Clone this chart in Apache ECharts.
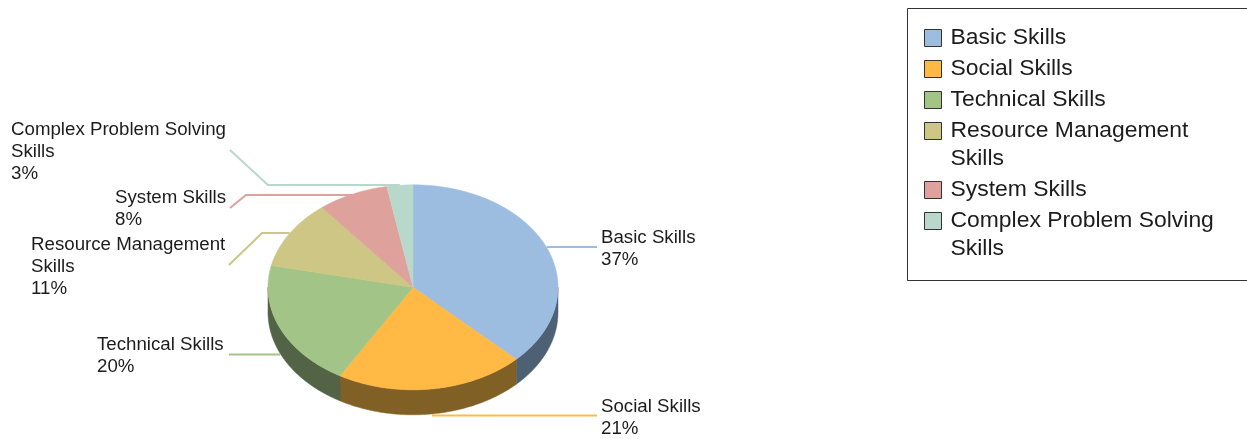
<!DOCTYPE html>
<html>
<head>
<meta charset="utf-8">
<style>html,body{margin:0;padding:0;background:#fff;overflow:hidden}#c{width:1247px;height:439px}</style>
<script src="https://cdn.jsdelivr.net/npm/echarts@6/dist/echarts.min.js"></script>
</head>
<body>
<div id="c"></div>
<script>
const categories = ['Basic Skills','Social Skills','Technical Skills','Resource Management Skills','System Skills','Complex Problem Solving Skills'];
const shareValues = [37.4,21,20,10.8,7.9,2.9];
const labelLines = [['Basic Skills'],['Social Skills'],['Technical Skills'],['Resource Management','Skills'],['System Skills'],['Complex Problem Solving','Skills']];
const legendLines = labelLines;
const topColors = ['#9cbce0','#ffb944','#a3c487','#cdc684','#dfa19b','#b9d8cc'];
const sideColors = ['#4e6073','#806024','#536345','#69653f','#705050','#5c6c66'];

// layout only
const pie = {cx:413, cy:287.3, rx:145, ry:102.5, depth:25};
const labelBoxes = [[601,227],[601,396],[97,334],[31,234],[115,187],[11,119]];
const leaderEnds = [
  {pts:[[597,247]], onSide:false},
  {pts:[[597,415.5]], onSide:true},
  {pts:[[229,354.5]], onSide:true},
  {pts:[[229,265],[262,233]], onSide:false},
  {pts:[[230,208],[246,195]], onSide:false},
  {pts:[[230,150],[268,185]], onSide:false}
];
const FONT = '"Liberation Sans", Arial, sans-serif';
const LABEL_SIZE = 18.7, LEGEND_SIZE = 22.9;

const total = shareValues.reduce((a,b)=>a+b,0);
const cumulative = shareValues.reduce((acc,v)=>{acc.push(acc[acc.length-1]+v);return acc;},[0]);
// t measured clockwise from 12 o'clock in radians
const toT = v => v/total*Math.PI*2;
const rim = (t,dy=0) => [pie.cx+pie.rx*Math.sin(t), pie.cy-pie.ry*Math.cos(t)+dy];
function arc(t0,t1,dy){
  const n = Math.max(2,Math.ceil((t1-t0)/0.012));
  const pts=[];
  for(let i=0;i<=n;i++) pts.push(rim(t0+(t1-t0)*i/n,dy));
  return pts;
}
function renderSlice(i){
  return function(){
    const t0=toT(cumulative[i]), t1=toT(cumulative[i+1]);
    const kids=[];
    // leader line
    const mid=(t0+t1)/2, le=leaderEnds[i];
    const a=rim(mid,le.onSide?pie.depth:0);
    const last=le.pts[le.pts.length-1];
    const anchor=[a[0],last[1]];
    kids.push({type:'polyline',silent:true,z2:1,shape:{points:le.pts.concat([anchor])},style:{stroke:topColors[i],lineWidth:2,fill:null}});
    // visible side wall: front half only (quarter-turn to three-quarter-turn)
    const s0=Math.max(t0,Math.PI/2), s1=Math.min(t1,Math.PI*1.5);
    if(s1>s0){
      const top=arc(s0,s1,0), bot=arc(s0,s1,pie.depth).reverse();
      kids.push({type:'polygon',silent:true,z2:2,shape:{points:top.concat(bot)},style:{fill:sideColors[i],stroke:sideColors[i],lineWidth:0.5}});
    }
    // top surface
    kids.push({type:'polygon',silent:true,z2:3,shape:{points:[[pie.cx,pie.cy]].concat(arc(t0,t1,0))},style:{fill:topColors[i],stroke:topColors[i],lineWidth:0.5}});
    // label
    kids.push({type:'text',silent:true,z2:5,x:labelBoxes[i][0],y:labelBoxes[i][1],
      style:{text:labelLines[i].concat([Math.round(shareValues[i])+'%']).join('\n'),fill:'#1c1c1c',font:LABEL_SIZE+'px '+FONT,lineHeight:22,align:'left',verticalAlign:'top'}});
    return {type:'group',children:kids};
  };
}
const series = categories.map((name,i)=>({
  type:'custom',name,coordinateSystem:'none',silent:true,
  itemStyle:{color:topColors[i]},
  data:[[shareValues[i]]],renderItem:renderSlice(i),animation:false
}));
function legendAt(names,top){
  return {orient:'vertical',left:924,top,padding:0,itemWidth:17,itemHeight:17,itemGap:-5,icon:'rect',
    selectedMode:false,data:names,
    itemStyle:{borderColor:'#333',borderWidth:1},
    textStyle:{fontFamily:FONT,fontSize:LEGEND_SIZE,lineHeight:28,color:'#1c1c1c',padding:[8,0,0,4]},
    formatter:n=>{const l=legendLines[categories.indexOf(n)];return l.length>1?'\n'+l.join('\n'):l[0];}};
}
const chart = echarts.init(document.getElementById('c'),null,{renderer:'canvas'});
chart.setOption({
  animation:false,
  backgroundColor:'#fff',
  tooltip:{show:false},
  legend:[legendAt(categories.slice(0,3),20),legendAt(categories.slice(3,5),85),legendAt(categories.slice(5),175)],
  graphic:[{type:'rect',silent:true,shape:{x:907.5,y:8.5,width:345,height:272},style:{fill:'none',stroke:'#333',lineWidth:1}}],
  series
});
</script>
</body>
</html>
